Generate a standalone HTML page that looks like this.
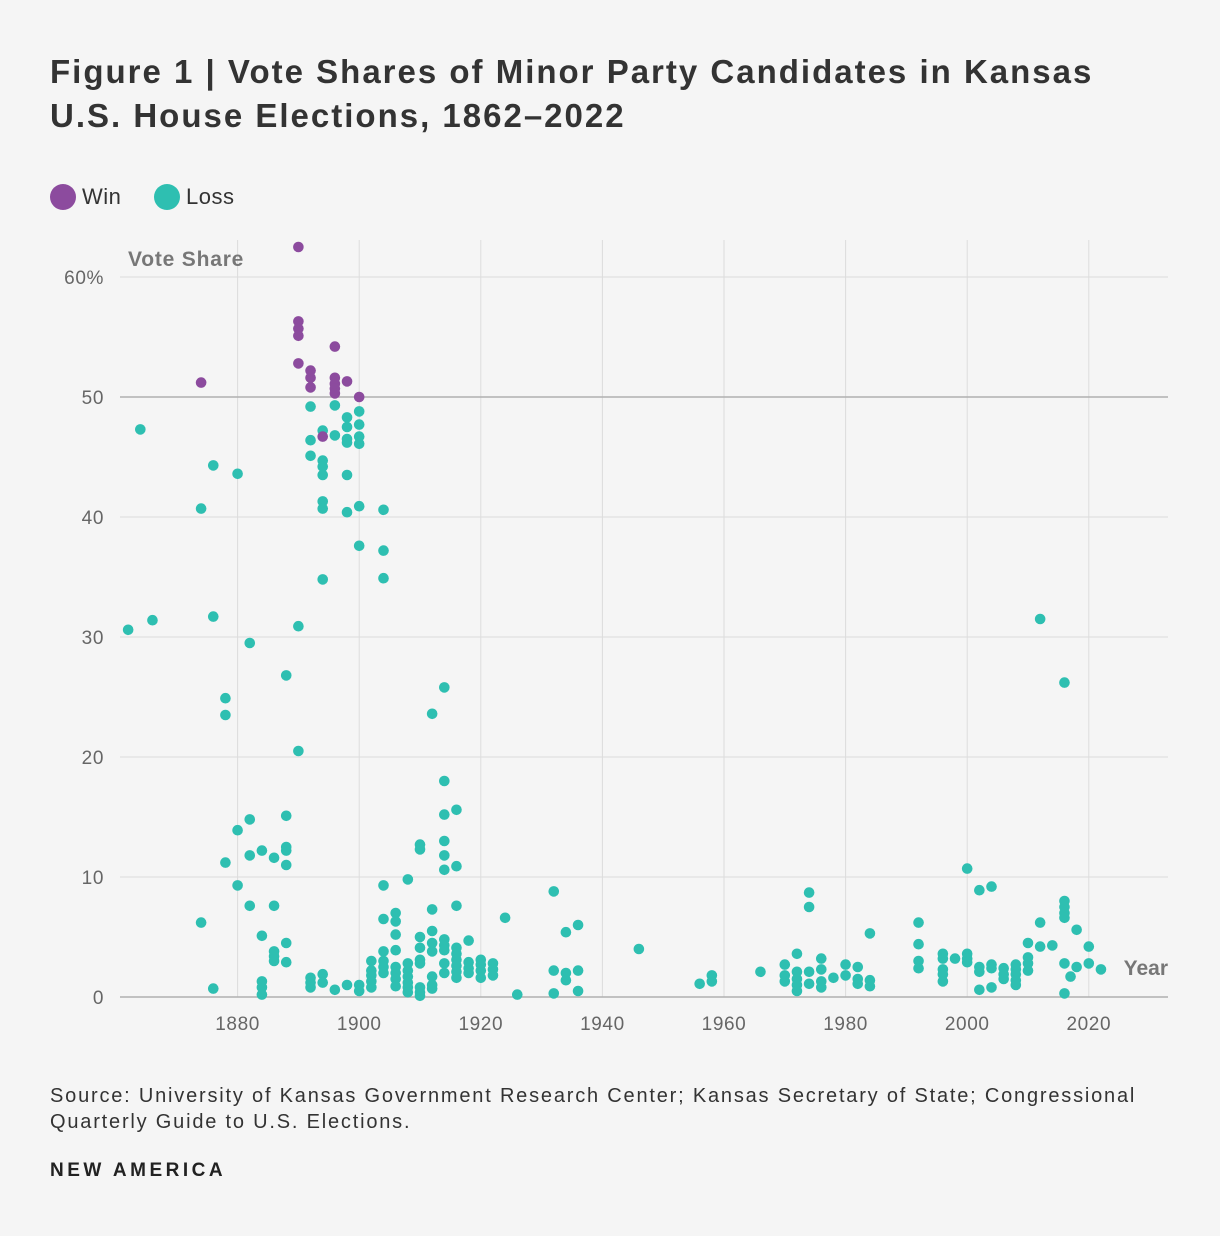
<!DOCTYPE html>
<html><head><meta charset="utf-8">
<style>
body{margin:0;background:#f5f5f5;font-family:"Liberation Sans",sans-serif;}
#wrap{position:relative;width:1220px;height:1236px;background:#f5f5f5;}
h1{position:absolute;left:50px;top:50px;margin:0;font-size:33px;line-height:44px;font-weight:bold;color:#333;width:1150px;letter-spacing:2px;white-space:nowrap;}
.leg{position:absolute;top:184px;font-size:22px;color:#333;display:flex;align-items:center;letter-spacing:0.5px;}
.leg span.d{width:26px;height:26px;border-radius:50%;display:inline-block;margin-right:6px;}
.src{position:absolute;left:50px;top:1083px;font-size:20px;line-height:26px;color:#333;width:1150px;letter-spacing:1.8px;white-space:nowrap;}
.brand{position:absolute;left:50px;top:1160px;font-size:19px;font-weight:bold;color:#222;letter-spacing:3.5px;}
</style></head><body>
<div id="wrap">
<h1>Figure 1 | Vote Shares of Minor Party Candidates in Kansas<br>U.S. House Elections, 1862–2022</h1>
<div class="leg" style="left:50px"><span class="d" style="background:#8c4b9e"></span>Win</div>
<div class="leg" style="left:154px"><span class="d" style="background:#2ebfb1"></span>Loss</div>
<svg id="chart" width="1220" height="1236" style="position:absolute;left:0;top:0"></svg>
<div class="src">Source: University of Kansas Government Research Center; Kansas Secretary of State; Congressional<br>Quarterly Guide to U.S. Elections.</div>
<div class="brand">NEW AMERICA</div>
</div>
<script>
const xTicks=[1880,1900,1920,1940,1960,1980,2000,2020];
const yTicks=[0,10,20,30,40,50,60];
const yTickLabels=["0","10","20","30","40","50","60%"];
const winYears=[1874,1890,1890,1890,1890,1890,1892,1892,1892,1894,1896,1896,1896,1896,1896,1898,1900];
const winShares=[51.2,62.5,56.3,55.7,55.1,52.8,52.2,51.6,50.8,46.7,54.2,51.6,51.1,50.7,50.3,51.3,50.0];
const lossGroups=[
[1862,[30.6]],[1864,[47.3]],[1866,[31.4]],[1874,[40.7,6.2]],[1876,[44.3,31.7,0.7]],
[1878,[24.9,23.5,11.2]],[1880,[43.6,13.9,9.3]],[1882,[29.5,14.8,11.8,7.6]],
[1884,[12.2,5.1,1.3,0.8,0.2]],[1886,[11.6,7.6,3.8,3.4,3.0]],
[1888,[26.8,15.1,12.5,12.2,11.0,4.5,2.9]],[1890,[30.9,20.5]],
[1892,[49.2,46.4,45.1,1.6,1.2,0.8]],[1894,[47.2,44.7,44.2,43.5,41.3,40.7,34.8,1.9,1.2]],
[1896,[49.3,46.8,0.6]],[1898,[48.3,47.5,46.5,46.2,43.5,40.4,1.0]],
[1900,[48.8,47.7,46.7,46.1,40.9,37.6,1.0,0.5]],[1902,[3.0,2.2,1.8,1.3,0.8]],
[1904,[40.6,37.2,34.9,9.3,6.5,3.8,3.0,2.5,2.0]],[1906,[7.0,6.3,5.2,3.9,2.5,2.0,1.5,0.9]],
[1908,[9.8,2.8,2.2,1.7,1.2,0.8,0.4]],[1910,[12.7,12.3,5.0,4.1,3.1,2.8,0.8,0.4,0.1]],
[1912,[23.6,7.3,5.5,4.5,3.8,1.7,1.0,0.7]],[1914,[25.8,18.0,15.2,13.0,11.8,10.6,4.8,4.3,3.9,2.8,2.0]],
[1916,[15.6,10.9,7.6,4.1,3.6,3.1,2.6,2.1,1.6]],[1918,[4.7,2.9,2.4,2.0]],[1920,[3.1,2.7,2.2,1.6]],
[1922,[2.8,2.3,1.8]],[1924,[6.6]],[1926,[0.2]],[1932,[8.8,2.2,0.3]],[1934,[5.4,2.0,1.4]],
[1936,[6.0,2.2,0.5]],[1946,[4.0]],[1956,[1.1]],[1958,[1.8,1.3]],[1966,[2.1]],
[1970,[2.7,1.8,1.3]],[1972,[3.6,2.1,1.5,1.0,0.5]],[1974,[8.7,7.5,2.1,1.1]],
[1976,[3.2,2.3,1.3,0.8]],[1978,[1.6]],[1980,[2.7,1.8]],[1982,[2.5,1.5,1.1]],[1984,[5.3,1.4,0.9]],
[1992,[6.2,4.4,3.0,2.4]],[1996,[3.6,3.2,2.3,1.9,1.3]],[1998,[3.2]],[2000,[10.7,3.6,3.2,2.9]],
[2002,[8.9,2.5,2.1,0.6]],[2004,[9.2,2.7,2.4,0.8]],[2006,[2.4,1.9,1.5]],[2008,[2.7,2.3,1.9,1.4,1.0]],
[2010,[4.5,3.3,2.8,2.2]],[2012,[31.5,6.2,4.2]],[2014,[4.3]],[2016,[26.2,8.0,7.5,7.0,6.6,2.8,0.3]],
[2017,[1.7]],[2018,[5.6,2.5]],[2020,[4.2,2.8]],[2022,[2.3]]];

const NS="http://www.w3.org/2000/svg";
const svg=document.getElementById('chart');
const X0=120,X1=1168,Y0=997;
const xs=y=>116+(y-1860)*6.08;
const ys=v=>Y0-v*12;
function mk(t,a){const e=document.createElementNS(NS,t);for(const k in a)e.setAttribute(k,a[k]);svg.appendChild(e);return e;}
xTicks.forEach(t=>{
  const l=mk('line',{x1:xs(t),x2:xs(t),y1:240,y2:Y0,stroke:'#dcdcdc','stroke-width':1});
  
  
  const tx=mk('text',{x:xs(t),y:Y0+33,'text-anchor':'middle','font-size':19,fill:'#666','font-family':'Liberation Sans, sans-serif','letter-spacing':0.6});
  tx.textContent=t;
  
  
});
yTicks.forEach((t,i)=>{
  const l=mk('line',{x1:X0,x2:X1,y1:ys(t),y2:ys(t),stroke:t===50||t===0?'#b0b0b0':'#dcdcdc','stroke-width':t===50||t===0?1.5:1});
  
  
  const tx=mk('text',{x:104,y:ys(t)+7,'text-anchor':'end','font-size':19,fill:'#666','font-family':'Liberation Sans, sans-serif','letter-spacing':0.6});
  tx.textContent=yTickLabels[i];
  
  
});
const yt=mk('text',{x:128,y:266,'font-size':21,'font-weight':'bold',fill:'#777','font-family':'Liberation Sans, sans-serif','letter-spacing':0.8});
yt.textContent='Vote Share';


const xt=mk('text',{x:1168,y:975,'text-anchor':'end','font-size':21,'font-weight':'bold',fill:'#777','font-family':'Liberation Sans, sans-serif'});
xt.textContent='Year';


lossGroups.forEach(g=>g[1].forEach(v=>{
  const c=mk('circle',{cx:xs(g[0]),cy:ys(v),r:5.3,fill:'#2ebfb1'});
  
  
}));
winYears.forEach((y,i)=>{
  const c=mk('circle',{cx:xs(y),cy:ys(winShares[i]),r:5.3,fill:'#8c4b9e'});
  
  
});
</script>
</body></html>
